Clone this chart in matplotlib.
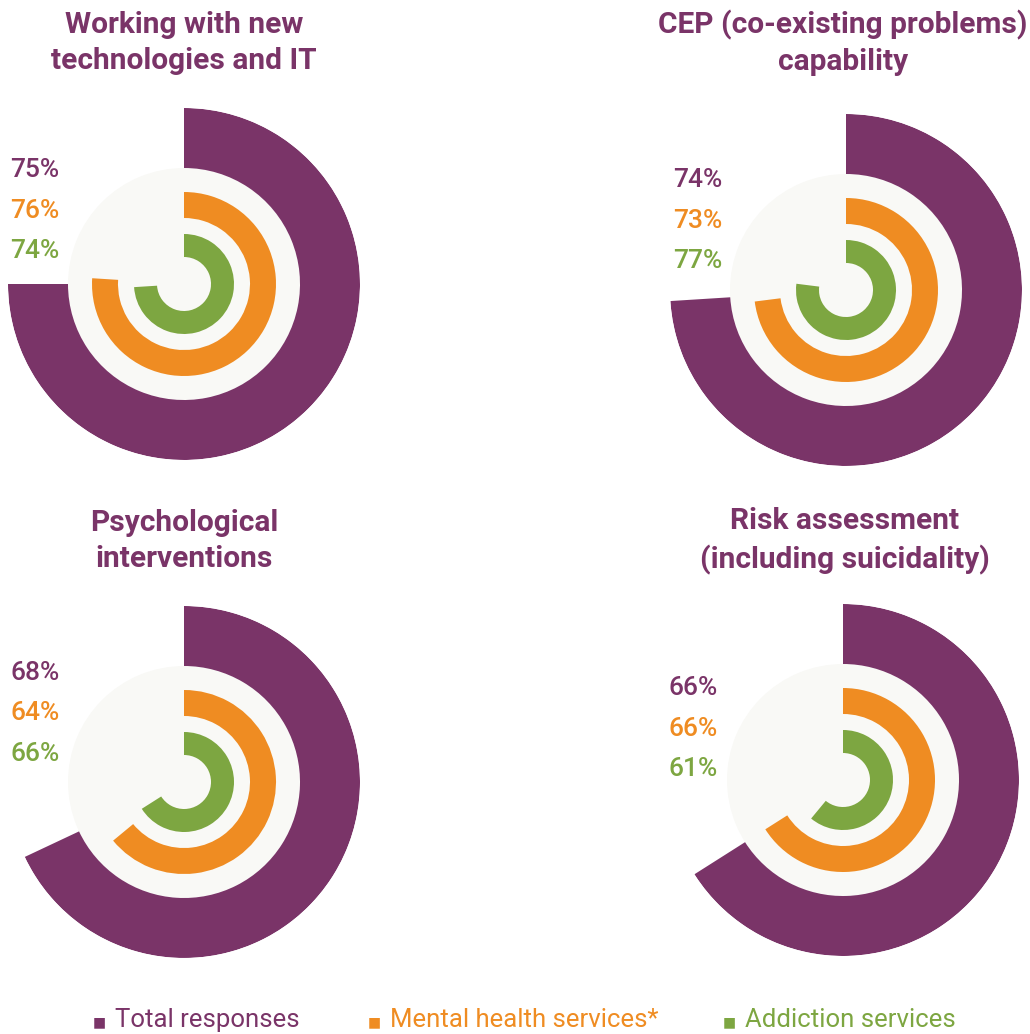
import numpy as np
import matplotlib.pyplot as plt

titles = [
    "Working with new\ntechnologies and IT",
    "CEP (co-existing problems)\ncapability",
    "Psychological\ninterventions",
    "Risk assessment\n(including suicidality)",
]
series_names = ["Total responses", "Mental health services*", "Addiction services"]
total_pct = [75, 74, 68, 66]
mental_pct = [76, 73, 64, 66]
addiction_pct = [74, 77, 66, 61]

PURPLE = "#7A3468"
ORANGE = "#EF8C22"
GREEN = "#7DA641"
DISC = "#F9F9F6"
colors = [PURPLE, ORANGE, GREEN]

W, H = 1030, 1034
# ring geometry in pixels (inner radius, outer radius)
rings = [(116, 176), (66, 92), (27, 50)]
DISC_R = 116

# chart centres and title positions in pixels
centres = [(184, 284), (846, 290), (184, 782), (843, 780)]
title_y = [43, 43, 541, 541]
title_x = [184, 843, 184, 845]
label_pos = [(10, 170), (673, 180), (10, 673), (668, 688)]

fig = plt.figure(figsize=(W / 100, H / 100), dpi=100)
fig.patch.set_facecolor("white")

for i in range(4):
    cx, cy = centres[i]
    R = rings[0][1]
    rect = [(cx - R) / W, 1 - (cy + R) / H, 2 * R / W, 2 * R / H]
    ax = fig.add_axes(rect, projection="polar")
    ax.set_theta_zero_location("N")
    ax.set_theta_direction(-1)
    ax.set_ylim(0, R)
    ax.set_axis_off()

    ax.bar(0, DISC_R, width=2 * np.pi, bottom=0, color=DISC, align="edge",
           linewidth=0)
    vals = [total_pct[i], mental_pct[i], addiction_pct[i]]
    for (r0, r1), v, c in zip(rings, vals, colors):
        ax.bar(0, r1 - r0, width=v / 100 * 2 * np.pi, bottom=r0, color=c,
               align="edge", linewidth=0)

    fig.text(title_x[i] / W, 1 - title_y[i] / H, titles[i], ha="center",
             va="center", fontsize=21.5, fontweight="bold", color=PURPLE,
             family="Roboto", linespacing=1.4)

    lx, ly = label_pos[i]
    for k, (v, c) in enumerate(zip(vals, colors)):
        fig.text(lx / W, 1 - (ly + k * 40.5) / H, f"{v}%", ha="left",
                 va="center", fontsize=19, color=c, family="Roboto",
                 fontweight="medium")

# legend
leg_sq = [93, 368, 723]
for x, name, c in zip(leg_sq, series_names, colors):
    fig.text(x / W, 1 - 1022 / H, "\u25a0", ha="left", va="center",
             fontsize=10, color=c)
    fig.text((x + 22) / W, 1 - 1020 / H, name, ha="left", va="center",
             fontsize=18.5, color=c, family="Roboto")

fig.savefig("out.png", dpi=100, facecolor="white")
